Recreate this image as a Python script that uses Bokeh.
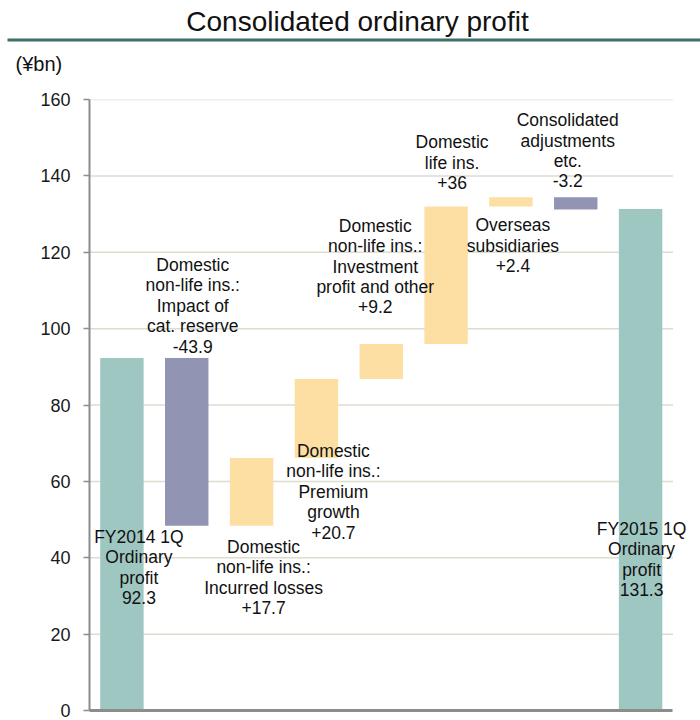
from bokeh.plotting import figure
from bokeh.layouts import column
from bokeh.models import Range1d, FixedTicker, ColumnDataSource
from bokeh.embed import file_html
from bokeh.resources import INLINE
from bokeh.core.properties import value

# ---------------- data ----------------
title_text = "Consolidated ordinary profit"
unit_text = "(¥bn)"
categories = [
    "FY2014 1Q", "Impact of cat. reserve", "Incurred losses", "Premium growth",
    "Investment profit and other", "Domestic life ins.", "Overseas subsidiaries",
    "Consolidated adjustments etc.", "FY2015 1Q",
]
start_value = 92.3
changes = [-43.9, 17.7, 20.7, 9.2, 36.0, 2.4, -3.2]
end_value = 131.3
label_texts = [
    "FY2014 1Q\nOrdinary\nprofit\n92.3",
    "Domestic\nnon-life ins.:\nImpact of\ncat. reserve\n-43.9",
    "Domestic\nnon-life ins.:\nIncurred losses\n+17.7",
    "Domestic\nnon-life ins.:\nPremium\ngrowth\n+20.7",
    "Domestic\nnon-life ins.:\nInvestment\nprofit and other\n+9.2",
    "Domestic\nlife ins.\n+36",
    "Overseas\nsubsidiaries\n+2.4",
    "Consolidated\nadjustments\netc.\n-3.2",
    "FY2015 1Q\nOrdinary\nprofit\n131.3",
]
y_ticks = [0, 20, 40, 60, 80, 100, 120, 140, 160]

# ---------------- layout / style ----------------
label_dx = [17, 6, 12, 17, -6, 6, 2, -8, 1]               # px offsets of labels
label_dy = [169, -103, 79, 62, -128, -74, 18, -87, 310]    # px below bar upper edge
TEAL, PURPLE, YELLOW = "#9fc7c1", "#9294b4", "#fddfa3"
FONT = "Liberation Sans"

tops, bottoms, colors = [start_value], [0.0], [TEAL]
level = start_value
for c in changes:
    new = level + c
    tops.append(max(level, new))
    bottoms.append(min(level, new))
    colors.append(YELLOW if c >= 0 else PURPLE)
    level = new
tops.append(end_value)
bottoms.append(0.0)
colors.append(TEAL)
xs = [i + 0.5 for i in range(len(categories))]
n = len(categories)

src = ColumnDataSource(dict(x=xs, cat=categories, top=tops, bottom=bottoms, color=colors,
                            label=label_texts, dx=label_dx, dy=label_dy))

# ---------------- header (title, rule, unit) ----------------
head = figure(width=700, height=80, x_range=Range1d(0, 700), y_range=Range1d(80, 0),
              output_backend="svg", toolbar_location=None,
              min_border=0, min_border_left=0, min_border_right=0,
              min_border_top=0, min_border_bottom=0)
head.axis.visible = False
head.grid.visible = False
head.outline_line_color = None
head.text(x=[357], y=[21], text=[title_text], text_align="center", text_baseline="middle",
          text_font=value(FONT), text_font_size=value("28px"), text_color="#111111")
head.segment(x0=[7], x1=[700], y0=[39.5], y1=[39.5], line_color="#3e7068", line_width=3)
head.text(x=[15], y=[63], text=[unit_text], text_align="left", text_baseline="middle",
          text_font=value(FONT), text_font_size=value("20px"), text_color="#111111")

# ---------------- main chart ----------------
p = figure(width=700, height=640,
           x_range=Range1d(0, n + 0.27),
           y_range=Range1d(0, 160),
           output_backend="svg", toolbar_location=None,
           min_border_left=89, min_border_right=10,
           min_border_top=19, min_border_bottom=10)
p.outline_line_color = None
p.xgrid.visible = False
p.ygrid.visible = False

xa = p.xaxis[0]
xa.ticker = FixedTicker(ticks=[])
xa.bounds = (0, n)
xa.axis_line_color = "#8c8c8c"
xa.axis_line_width = 3
xa.major_tick_line_color = None
xa.minor_tick_line_color = None
xa.major_label_text_font_size = "0px"

ax = p.yaxis[0]
ax.ticker = FixedTicker(ticks=y_ticks)
ax.bounds = (0, 160)
ax.axis_line_color = "#8c8c8c"
ax.axis_line_width = 2
ax.major_tick_line_color = "#8c8c8c"
ax.major_tick_line_width = 1.5
ax.major_tick_out = 6
ax.major_tick_in = 0
ax.minor_tick_line_color = None
ax.major_label_standoff = 13
ax.major_label_text_font = FONT
ax.major_label_text_font_size = "18px"
ax.major_label_text_color = "#1a1a1a"

grid_y = [t for t in y_ticks if t > 0]
p.segment(x0=[0] * len(grid_y), x1=[n] * len(grid_y), y0=grid_y, y1=grid_y,
          line_color="#dcdccf", line_width=1.5)

p.vbar(x="x", top="top", bottom="bottom", width=0.67, fill_color="color",
       line_color=None, source=src)

p.text(x="x", y="top", text="label", x_offset="dx", y_offset="dy", source=src,
       text_align="center", text_baseline="top",
       text_font=value(FONT), text_font_size=value("17.5px"),
       text_color="#111111", text_line_height=1.02)

layout = column(column(head), column(p), spacing=0)
open("out.html", "w").write(file_html(layout, INLINE))
